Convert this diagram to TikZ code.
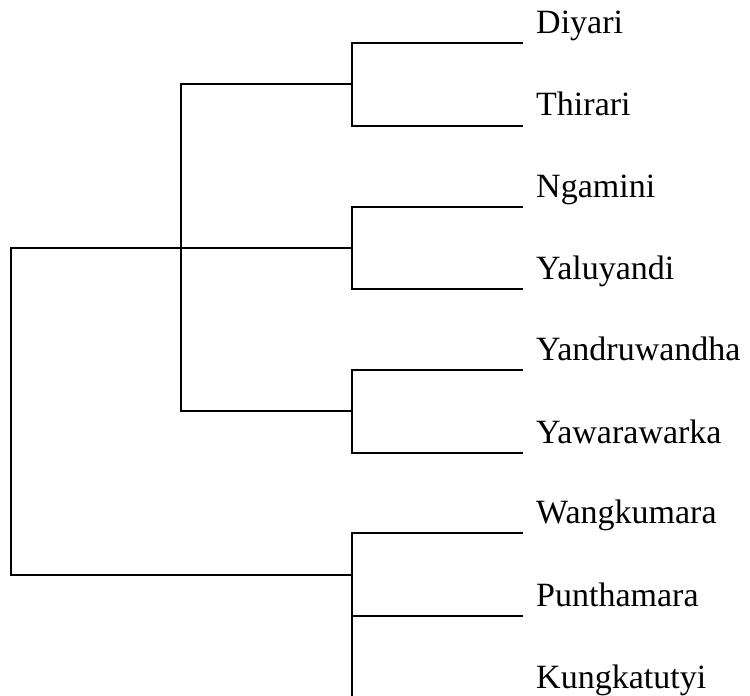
\documentclass[tikz,border=0pt]{standalone}
\usepackage{fontspec}
\setmainfont{Liberation Serif}
\begin{document}
\begin{tikzpicture}[x=1pt,y=-1pt,
  branch/.style={line width=2pt, line join=miter, line cap=rect},
  leaf/.style={anchor=base west, inner sep=0pt, font=\fontsize{34}{40}\selectfont}]
\useasboundingbox (0,0) rectangle (750,696);
% leaf tips
\coordinate (t1) at (522,43);
\coordinate (t2) at (522,126);
\coordinate (t3) at (522,207);
\coordinate (t4) at (522,289);
\coordinate (t5) at (522,370);
\coordinate (t6) at (522,453);
\coordinate (t7) at (522,533);
\coordinate (t8) at (522,616);
\coordinate (bot) at (352,696);
% clade junctions
\coordinate (c1) at (352,84);
\coordinate (c2) at (352,248);
\coordinate (c3) at (352,411);
\coordinate (c4) at (352,575);
\coordinate (a) at (181,248);
\coordinate (rt) at (11,248);
\coordinate (rb) at (11,575);
% labels
\node[leaf] (n1) at (536,33) {Diyari};
\node[leaf] (n2) at (536,115) {Thirari};
\node[leaf] (n3) at (536,197) {Ngamini};
\node[leaf] (n4) at (536,279) {Yaluyandi};
\node[leaf] (n5) at (536,360) {Yandruwandha};
\node[leaf] (n6) at (536,443) {Yawarawarka};
\node[leaf] (n7) at (536,523) {Wangkumara};
\node[leaf] (n8) at (536,606) {Punthamara};
\node[leaf] (n9) at (536,688) {Kungkatutyi};
% branches
\draw[branch] (t1) -| (c1) |- (t2);
\draw[branch] (t3) -| (c2) |- (t4);
\draw[branch] (t5) -| (c3) |- (t6);
\draw[branch] (t7) -| (bot);
\draw[branch] (t8) -- (352,616);
\draw[branch] (c1) -| (a) |- (c3);
\draw[branch] (c2) -- (rt) -- (rb) -- (c4);
\end{tikzpicture}
\end{document}
